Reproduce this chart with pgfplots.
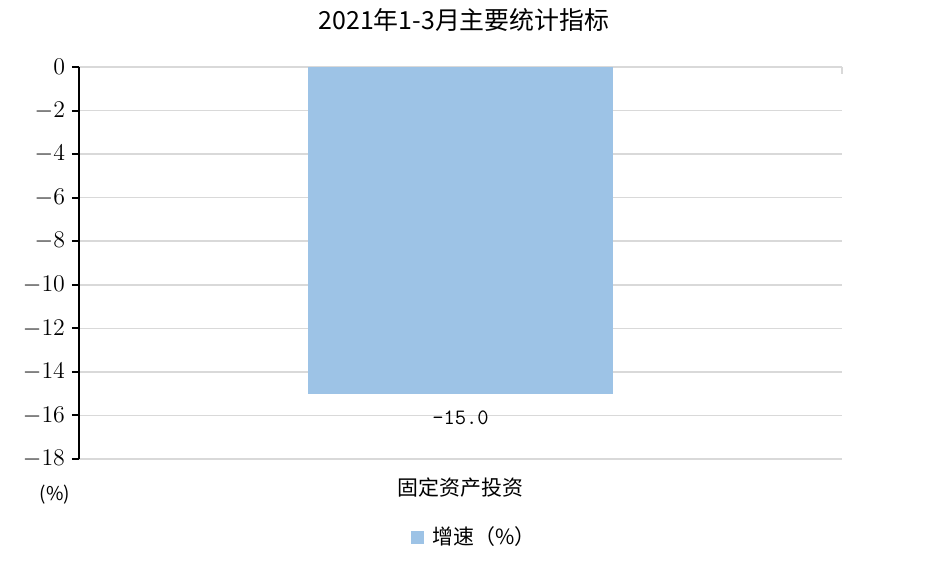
\documentclass[border=0pt]{standalone}
\usepackage{fontspec}
\usepackage{pgfplots}
\pgfplotsset{compat=1.18}
\newfontfamily\cjk{Noto Sans CJK SC}
\definecolor{barblue}{RGB}{157,195,230}
\definecolor{gridgray}{RGB}{217,217,217}

\begin{document}
\begin{tikzpicture}
  % picture box: 929x569 px at 0.5bp per px, axis box at origin
  \useasboundingbox (-39.5bp,-55bp) rectangle (425bp,229.5bp);
  \begin{axis}[
      at={(0,0)}, anchor=south west,
      scale only axis,
      width=381.5bp, height=196bp,
      ybar, bar width=0.4,
      xmin=-0.5, xmax=0.5,
      ymin=-18, ymax=0,
      ytick={-18,-16,...,0},
      xtick={-0.5,0.5}, xticklabels={},
      axis y line*=left,
      axis x line*=top,
      y axis line style={black, line width=1bp, -},
      x axis line style={gridgray, line width=0.75bp, -},
      x tick style={gridgray, line width=0.75bp},
      y tick style={black, line width=1bp},
      xtick align=inside, ytick align=outside,
      major tick length=3.5bp,
      ymajorgrids,
      major grid style={gridgray, line width=0.75bp},
      tick label style={font=\fontsize{11.5}{13}\selectfont},
      clip=false,
      title={\cjk\fontsize{12.5}{14}\selectfont 2021年1-3月主要统计指标},
      title style={at={(0.5,1)}, anchor=center, yshift=17.5bp, xshift=1.75bp},
      legend style={at={(0.522,-0.199)}, anchor=center, draw=none,
                    font=\cjk\fontsize{10.5}{12}\selectfont},
      legend image code/.code={\fill[#1] (0bp,-3.25bp) rectangle (6.5bp,3.25bp);},
      legend cell align=left,
      legend style={nodes={inner xsep=4bp}},
    ]
    \addplot[draw=none, fill=barblue] coordinates {(0,-15.0)};
    \legend{增速（\%）}
    \node[font=\ttfamily\fontsize{11}{13}\selectfont, below] at (axis cs:0,-15.0) [yshift=-5bp] {-15.0};
    \node[font=\cjk\fontsize{10.5}{12}\selectfont, below] at (axis cs:0,-18) [yshift=-6bp] {固定资产投资};
    \node[font=\cjk\fontsize{9.5}{12}\selectfont] at (axis cs:-0.5,-18) [xshift=-12bp, yshift=-18bp] {(\%)};
  \end{axis}
\end{tikzpicture}
\end{document}
